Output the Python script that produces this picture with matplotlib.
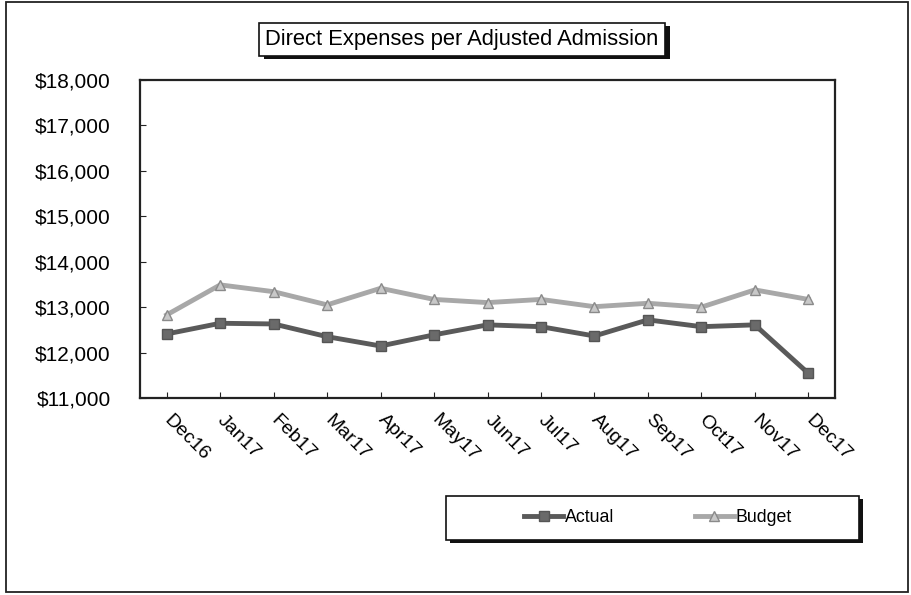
import matplotlib.pyplot as plt
from matplotlib.patches import Rectangle
from matplotlib.ticker import FuncFormatter

plt.rcParams['font.family'] = ['Liberation Sans', 'DejaVu Sans']

months = ['Dec16', 'Jan17', 'Feb17', 'Mar17', 'Apr17', 'May17', 'Jun17',
          'Jul17', 'Aug17', 'Sep17', 'Oct17', 'Nov17', 'Dec17']
actual = [12410, 12645, 12630, 12350, 12145, 12390, 12610,
          12570, 12365, 12720, 12570, 12610, 11545]
budget = [12830, 13490, 13340, 13050, 13415, 13170, 13100,
          13170, 13010, 13085, 13000, 13380, 13170]

fig = plt.figure(figsize=(9.11, 5.95), dpi=100)
W, H = 911, 595

# outer chart frame
fig.patches.append(Rectangle((6 / W, 3 / H), 902 / W, 590 / H, transform=fig.transFigure,
                             fill=False, edgecolor='#222222', linewidth=1.3))

ax = fig.add_axes([140 / W, 1 - 398 / H, 695 / W, 318 / H])
x = list(range(len(months)))
ax.plot(x, budget, color='#a8a8a8', linewidth=3.5, marker='^', markersize=7,
        markerfacecolor='#c8c8c8', markeredgecolor='#8a8a8a', label='Budget', zorder=3)
ax.plot(x, actual, color='#5a5a5a', linewidth=3.5, marker='s', markersize=7,
        markerfacecolor='#6a6a6a', markeredgecolor='#555555', label='Actual', zorder=4)

ax.set_xlim(-0.5, len(months) - 0.5)
ax.set_ylim(11000, 18000)
ax.set_yticks(range(11000, 18001, 1000))
ax.yaxis.set_major_formatter(FuncFormatter(lambda v, p: f'${v:,.0f}'))
ax.set_xticks(x)
ax.set_xticklabels(months, rotation=-45, ha='left', va='center', rotation_mode='anchor')
ax.tick_params(axis='both', direction='in', length=4, color='#222222')
ax.tick_params(axis='x', pad=14, labelsize=14)
ax.tick_params(axis='y', pad=21, labelsize=15)
for sp in ax.spines.values():
    sp.set_linewidth(1.6)
    sp.set_color('#222222')

# title box with shadow
fig.patches.append(Rectangle((264 / W, 1 - 59 / H), 406 / W, 33 / H, transform=fig.transFigure,
                             facecolor='#111111', edgecolor='none'))
fig.patches.append(Rectangle((259 / W, 1 - 56 / H), 406 / W, 33 / H, transform=fig.transFigure,
                             facecolor='white', edgecolor='#111111', linewidth=1.2))
fig.text(462 / W, 1 - 40 / H, 'Direct Expenses per Adjusted Admission',
         ha='center', va='center', fontsize=15.8)

# legend box with shadow
handles, labels = ax.get_legend_handles_labels()
fig.patches.append(Rectangle((450 / W, 1 - 543 / H), 413 / W, 44 / H, transform=fig.transFigure,
                             facecolor='#111111', edgecolor='none'))
fig.patches.append(Rectangle((446 / W, 1 - 540 / H), 413 / W, 44 / H, transform=fig.transFigure,
                             facecolor='white', edgecolor='#111111', linewidth=1.2))
leg = fig.legend(handles[::-1], labels[::-1], loc='center', bbox_to_anchor=(658 / W, 1 - 518 / H),
                 ncol=2, frameon=False, fontsize=12.8, handlelength=2.2, handletextpad=0.1,
                 columnspacing=4.5)

fig.savefig('out.png', dpi=100)
